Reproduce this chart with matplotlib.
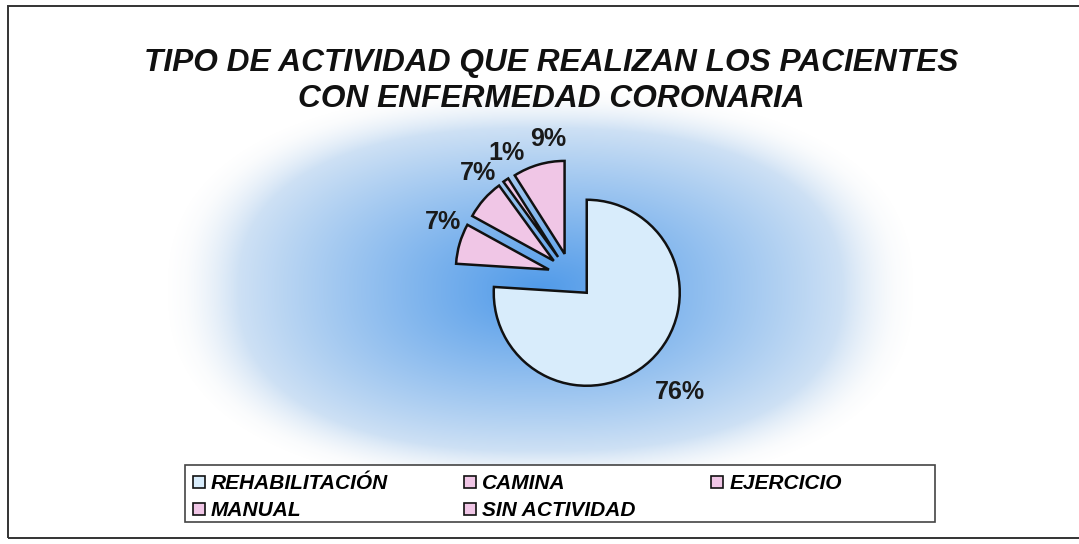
import numpy as np
import matplotlib
matplotlib.use("Agg")
import matplotlib.pyplot as plt
from matplotlib.patches import Rectangle

# datos del gráfico
categorias = ["REHABILITACIÓN", "CAMINA", "EJERCICIO", "MANUAL", "SIN ACTIVIDAD"]
porcentajes = [76, 7, 7, 1, 9]
colores = ["#d8ecfb", "#f0c6e6", "#f0c6e6", "#f0c6e6", "#f0c6e6"]
titulo = "TIPO DE ACTIVIDAD QUE REALIZAN LOS PACIENTES\nCON ENFERMEDAD CORONARIA"

plt.rcParams['font.family'] = ['Liberation Sans', 'DejaVu Sans']

W, H = 1079, 544
R = 93  # radio en px
fig = plt.figure(figsize=(W / 100, H / 100), dpi=100)
ax = fig.add_axes([0, 0, 1, 1])

# fondo con degradado azul (tipo "desde el centro")
xx, yy = np.meshgrid(np.arange(W), np.arange(H))
dx = np.abs(xx - 540) / 355.0
dy = np.abs(yy - (H - 290)) / 190.0
t = (dx ** 2.4 + dy ** 2.4) ** (1 / 2.4)
w = np.clip(1 - t, 0, 1) ** 0.85 * 0.93
azul = np.array([0.27, 0.58, 0.91])
fondo = np.array([0.93, 0.95, 0.97])
img = (1 - w[..., None]) * fondo + w[..., None] * azul
# fuera del área del degradado, blanco
f = np.clip((t - 0.85) / 0.2, 0, 1)[..., None]
img = (1 - f) * img + f * np.array([1.0, 1.0, 1.0])
ax.imshow(img, extent=(0, W, 0, H), origin="lower", zorder=0)

# 1. pastel (explode en px)
wedges, textos, autotextos = ax.pie(
    porcentajes, colors=colores, startangle=90, counterclock=False,
    explode=[23] * 5, center=(571, H - 276), radius=R,
    autopct="%1.0f%%", pctdistance=1.27,
    wedgeprops=dict(edgecolor="#111111", linewidth=1.8),
    textprops=dict(fontsize=18, fontweight="bold", color="#1a1a1a"))

# etiquetas colocadas como en Excel (algo giradas hacia arriba)
for i, (cuna, txt) in enumerate(zip(wedges, autotextos)):
    cx, cy = cuna.center
    ang = (cuna.theta1 + cuna.theta2) / 2
    dist = 1.47 * R
    if i > 0:
        ang -= 8
        dist = 1.25 * R
    th = np.deg2rad(ang)
    txt.set_position((cx + dist * np.cos(th), cy + dist * np.sin(th)))

ax.set_xlim(0, W)
ax.set_ylim(0, H)
ax.set_aspect("auto")
ax.axis("off")

# 2. título
ax.text(551, H - 81, titulo, ha="center", va="center", fontsize=22.8,
        fontweight="bold", fontstyle="italic", linespacing=1.3, color="#111111")

# 3. marco exterior
ax.add_patch(Rectangle((8, 6), W + 20, H - 12, fill=False, edgecolor="#333333",
                       linewidth=1.4, zorder=5))

# 4. leyenda (orden por filas)
ax.add_patch(Rectangle((185, H - 522), 750, 57, facecolor="white",
                       edgecolor="#444444", linewidth=1.2, zorder=4))
orden = [0, 3, 1, 4, 2]
leg = ax.legend([wedges[i] for i in orden], [categorias[i] for i in orden],
                ncol=3, bbox_to_anchor=(189, H - 470),
                bbox_transform=ax.transData, loc="upper left",
                prop=dict(size=15, weight="bold", style="italic"),
                handlelength=0.55, handleheight=0.55, handletextpad=0.3,
                columnspacing=3.65, frameon=False, borderaxespad=0,
                borderpad=0.2, labelspacing=0.4)
leg.set_zorder(6)
for h in leg.legend_handles:
    h.set_linewidth(1.2)

fig.savefig("out.png", dpi=100)
